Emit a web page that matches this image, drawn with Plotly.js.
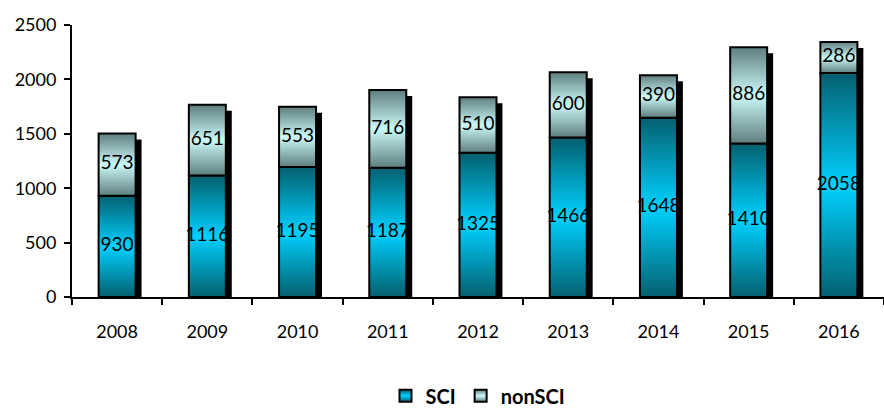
<!DOCTYPE html>
<html>
<head>
<meta charset="utf-8">
<script src="https://cdn.plot.ly/plotly-3.0.1.min.js"></script>
<style>
html,body{margin:0;padding:0;background:#fff;}
#chart{width:884px;height:408px;}
</style>
</head>
<body>
<div id="chart"></div>
<script>
var years = ['2008','2009','2010','2011','2012','2013','2014','2015','2016'];
var sci = [930, 1116, 1195, 1187, 1325, 1466, 1648, 1410, 2058];
var nonSci = [573, 651, 553, 716, 510, 600, 390, 886, 286];

var totals = sci.map(function(v, i){ return v + nonSci[i]; });
var shadowDrop = 55;
var barW = 0.41;
var font = 'Lato, "Open Sans", sans-serif';

var traces = [
  {
    type: 'bar', x: years, y: totals.map(function(t){ return t - shadowDrop; }),
    base: 0, width: barW, offset: -barW/2 + 0.066,
    marker: {color: '#000', line: {width: 0}},
    showlegend: false, hoverinfo: 'skip', name: 'shadow'
  },
  {
    type: 'bar', name: 'SCI', x: years, y: sci, base: 0,
    width: barW, offset: -barW/2,
    marker: {color: '#00b8e6', line: {color: '#000', width: 2}}
  },
  {
    type: 'bar', name: 'nonSCI', x: years, y: nonSci, base: sci,
    width: barW, offset: -barW/2,
    marker: {color: '#b0e8e8', line: {color: '#000', width: 2}}
  },
  {
    type: 'scatter', mode: 'text', x: years,
    y: sci.map(function(v){ return v / 2; }),
    text: sci.map(String), textposition: 'middle center',
    textfont: {family: font, size: 19, color: '#000'},
    showlegend: false, hoverinfo: 'skip', cliponaxis: false
  },
  {
    type: 'scatter', mode: 'text', x: years,
    y: sci.map(function(v, i){ return v + nonSci[i] / 2; }),
    text: nonSci.map(String), textposition: 'middle center',
    textfont: {family: font, size: 19, color: '#000'},
    showlegend: false, hoverinfo: 'skip', cliponaxis: false
  }
];

var layout = {
  width: 884, height: 408,
  margin: {l: 72, r: 0, t: 25, b: 111},
  paper_bgcolor: '#fff', plot_bgcolor: '#fff',
  barmode: 'overlay',
  font: {family: font, size: 18, color: '#000'},
  showlegend: true,
  legend: {
    orientation: 'h', x: 0.5, xanchor: 'center',
    yref: 'container', y: 0.03, yanchor: 'middle',
    font: {family: font, size: 20, color: '#000', weight: 'bold'},
    itemwidth: 30, traceorder: 'normal'
  },
  xaxis: {
    type: 'category', range: [-0.5, 8.5], automargin: false,
    showline: true, linecolor: '#000', linewidth: 2,
    ticks: 'outside', tickson: 'boundaries', ticklen: 6, tickwidth: 2, tickcolor: '#000',
    showgrid: false, zeroline: false,
    ticklabelstandoff: 17,
    tickfont: {family: font, size: 18, color: '#000'}
  },
  yaxis: {
    range: [0, 2500], dtick: 500, tick0: 0, automargin: false,
    showline: true, linecolor: '#000', linewidth: 2,
    ticks: 'outside', ticklen: 6, tickwidth: 2, tickcolor: '#000',
    showgrid: false, zeroline: false,
    ticklabelstandoff: 4,
    tickfont: {family: font, size: 18, color: '#000'}
  }
};

Plotly.newPlot('chart', traces, layout, {staticPlot: true}).then(function(gd){
  var svgNS = 'http://www.w3.org/2000/svg';
  var svg = gd.querySelector('.main-svg');
  var defs = svg.querySelector('defs');
  if (!defs) { defs = document.createElementNS(svgNS, 'defs'); svg.insertBefore(defs, svg.firstChild); }
  function grad(id, stops){
    var g = document.createElementNS(svgNS, 'linearGradient');
    g.setAttribute('id', id);
    g.setAttribute('x1', '0'); g.setAttribute('y1', '0');
    g.setAttribute('x2', '0'); g.setAttribute('y2', '1');
    stops.forEach(function(s){
      var st = document.createElementNS(svgNS, 'stop');
      st.setAttribute('offset', s[0]);
      st.setAttribute('stop-color', s[1]);
      g.appendChild(st);
    });
    defs.appendChild(g);
  }
  grad('gSCI', [['0', '#04606f'], ['0.5', '#00d0ff'], ['1', '#04606f']]);
  grad('gNon', [['0', '#5e7e7e'], ['0.5', '#cbf8f8'], ['1', '#5e7e7e']]);
  var barTraces = gd.querySelectorAll('.barlayer .trace');
  var fills = [null, 'url(#gSCI)', 'url(#gNon)'];
  barTraces.forEach(function(t, i){
    if (!fills[i]) return;
    t.querySelectorAll('path').forEach(function(p){ p.style.fill = fills[i]; });
  });
  var legendTraces = gd.querySelectorAll('.legend .traces');
  var lf = ['url(#gSCI)', 'url(#gNon)'];
  legendTraces.forEach(function(t, i){
    t.querySelectorAll('.legendpoints path').forEach(function(p){ if (lf[i]) p.style.fill = lf[i]; });
  });
});
</script>
</body>
</html>
